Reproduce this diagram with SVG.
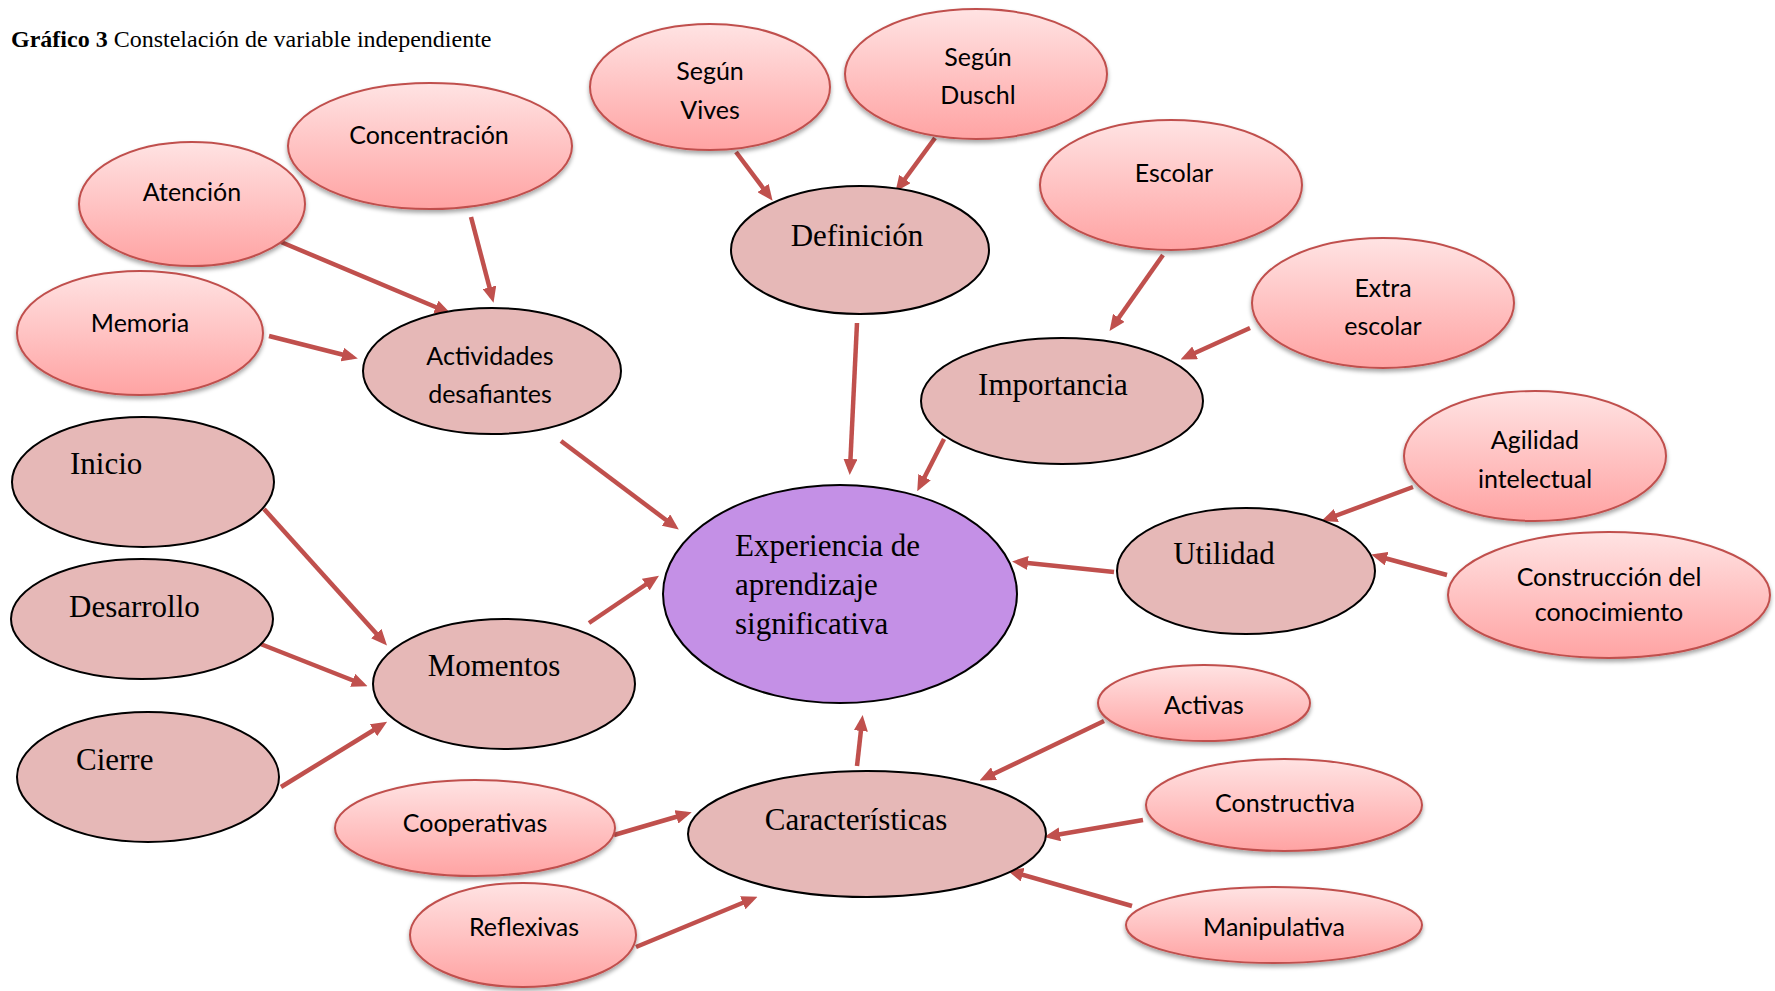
<svg xmlns="http://www.w3.org/2000/svg" width="1775" height="991" viewBox="0 0 1775 991">
<style>
.pk{fill:url(#pg);stroke:#C0504D;stroke-width:2;filter:url(#sh)}
.dk{fill:#E6B8B7;stroke:#000;stroke-width:2}
.pu{fill:#C490E6;stroke:#000;stroke-width:2}
.ts{font-family:Lato,"Liberation Sans",sans-serif;font-size:25px;fill:#000;text-anchor:middle}
.tr{font-family:"Liberation Serif","Times New Roman",serif;font-size:31px;fill:#000}
.c line{stroke:#C0504D;stroke-width:4.5;marker-end:url(#ah)}
</style>
<defs>
<linearGradient id="pg" x1="0" y1="0" x2="0" y2="1">
<stop offset="0" stop-color="#FFE3E3"/>
<stop offset="1" stop-color="#FFA3A3"/>
</linearGradient>
<filter id="sh" x="-10%" y="-10%" width="120%" height="130%">
<feDropShadow dx="0" dy="3" stdDeviation="2" flood-color="#000" flood-opacity="0.35"/>
</filter>
<marker id="ah" markerUnits="userSpaceOnUse" viewBox="0 0 16 14" markerWidth="16" markerHeight="14" refX="10" refY="7" orient="auto">
<path d="M0,0 L16,7 L0,14 z" fill="#C0504D"/>
</marker>
</defs>
<rect width="1775" height="991" fill="#fff"/>
<text x="11" y="47" font-family="Liberation Serif,serif" font-size="24"><tspan font-weight="bold">Gráfico 3</tspan> Constelación de variable independiente</text>

<g class="c" id="connectors">
<line x1="281" y1="242" x2="445" y2="311"/>
<line x1="471" y1="217" x2="492" y2="297"/>
<line x1="269" y1="336" x2="352" y2="357"/>
<line x1="561" y1="441" x2="674" y2="526"/>
<line x1="264" y1="509" x2="383" y2="641"/>
<line x1="258" y1="643" x2="362" y2="684"/>
<line x1="281" y1="787" x2="382" y2="725"/>
<line x1="589" y1="623" x2="654" y2="579"/>
<line x1="736" y1="152" x2="769" y2="196"/>
<line x1="935" y1="138" x2="899" y2="187"/>
<line x1="857" y1="323" x2="850" y2="469"/>
<line x1="1163" y1="255" x2="1113" y2="326"/>
<line x1="1250" y1="328" x2="1186" y2="357"/>
<line x1="944" y1="439" x2="920" y2="486"/>
<line x1="1413" y1="487" x2="1327" y2="519"/>
<line x1="1447" y1="575" x2="1377" y2="556"/>
<line x1="1114" y1="572" x2="1018" y2="562"/>
<line x1="857" y1="766" x2="862" y2="721"/>
<line x1="1104" y1="721" x2="985" y2="778"/>
<line x1="1143" y1="820" x2="1050" y2="836"/>
<line x1="1132" y1="906" x2="1013" y2="872"/>
<line x1="614" y1="835" x2="686" y2="814"/>
<line x1="636" y1="947" x2="752" y2="899"/>
</g>

<g id="n-concentracion"><ellipse class="pk" cx="430" cy="146" rx="142" ry="63"/><text class="ts" x="429" y="144">Concentración</text></g>
<g id="n-atencion"><ellipse class="pk" cx="192" cy="204" rx="113" ry="62"/><text class="ts" x="192" y="201">Atención</text></g>
<g id="n-memoria"><ellipse class="pk" cx="140" cy="333" rx="123" ry="62"/><text class="ts" x="140" y="332">Memoria</text></g>
<g id="n-actividades"><ellipse class="dk" cx="492" cy="371" rx="129" ry="63"/><text class="ts" x="490" y="365">Actividades</text><text class="ts" x="490" y="403">desafiantes</text></g>
<g id="n-inicio"><ellipse class="dk" cx="143" cy="482" rx="131" ry="65"/><text class="tr" x="70" y="474">Inicio</text></g>
<g id="n-desarrollo"><ellipse class="dk" cx="142" cy="619" rx="131" ry="60"/><text class="tr" x="69" y="617">Desarrollo</text></g>
<g id="n-cierre"><ellipse class="dk" cx="148" cy="777" rx="131" ry="65"/><text class="tr" x="76" y="770">Cierre</text></g>
<g id="n-momentos"><ellipse class="dk" cx="504" cy="684" rx="131" ry="65"/><text class="tr" x="494" y="676" text-anchor="middle">Momentos</text></g>
<g id="n-vives"><ellipse class="pk" cx="710" cy="87" rx="120" ry="63"/><text class="ts" x="710" y="80">Según</text><text class="ts" x="710" y="119">Vives</text></g>
<g id="n-duschl"><ellipse class="pk" cx="976" cy="74" rx="131" ry="65"/><text class="ts" x="978" y="66">Según</text><text class="ts" x="978" y="104">Duschl</text></g>
<g id="n-definicion"><ellipse class="dk" cx="860" cy="250" rx="129" ry="64"/><text class="tr" x="857" y="246" text-anchor="middle">Definición</text></g>
<g id="n-escolar"><ellipse class="pk" cx="1171" cy="185" rx="131" ry="65"/><text class="ts" x="1174" y="182">Escolar</text></g>
<g id="n-extra"><ellipse class="pk" cx="1383" cy="303" rx="131" ry="65"/><text class="ts" x="1383" y="297">Extra</text><text class="ts" x="1383" y="335">escolar</text></g>
<g id="n-importancia"><ellipse class="dk" cx="1062" cy="401" rx="141" ry="63"/><text class="tr" x="1053" y="395" text-anchor="middle">Importancia</text></g>
<g id="n-agilidad"><ellipse class="pk" cx="1535" cy="456" rx="131" ry="65"/><text class="ts" x="1535" y="449">Agilidad</text><text class="ts" x="1535" y="488">intelectual</text></g>
<g id="n-utilidad"><ellipse class="dk" cx="1246" cy="571" rx="129" ry="63"/><text class="tr" x="1224" y="564" text-anchor="middle">Utilidad</text></g>
<g id="n-construccion"><ellipse class="pk" cx="1609" cy="595" rx="161" ry="63"/><text class="ts" x="1609" y="586" font-size="20">Construcción del</text><text class="ts" x="1609" y="621" font-size="20">conocimiento</text></g>
<g id="n-experiencia"><ellipse class="pu" cx="840" cy="594" rx="177" ry="109"/><text class="tr" x="735" y="556">Experiencia de</text><text class="tr" x="735" y="595">aprendizaje</text><text class="tr" x="735" y="634">significativa</text></g>
<g id="n-activas"><ellipse class="pk" cx="1204" cy="703" rx="106" ry="38"/><text class="ts" x="1204" y="714">Activas</text></g>
<g id="n-constructiva"><ellipse class="pk" cx="1284" cy="805" rx="138" ry="46"/><text class="ts" x="1285" y="812">Constructiva</text></g>
<g id="n-manipulativa"><ellipse class="pk" cx="1274" cy="925" rx="148" ry="38"/><text class="ts" x="1274" y="936">Manipulativa</text></g>
<g id="n-caracteristicas"><ellipse class="dk" cx="867" cy="834" rx="179" ry="63"/><text class="tr" x="856" y="830" text-anchor="middle">Características</text></g>
<g id="n-cooperativas"><ellipse class="pk" cx="475" cy="828" rx="140" ry="48"/><text class="ts" x="475" y="832">Cooperativas</text></g>
<g id="n-reflexivas"><ellipse class="pk" cx="523" cy="935" rx="113" ry="52"/><text class="ts" x="524" y="936">Reflexivas</text></g>
</svg>
